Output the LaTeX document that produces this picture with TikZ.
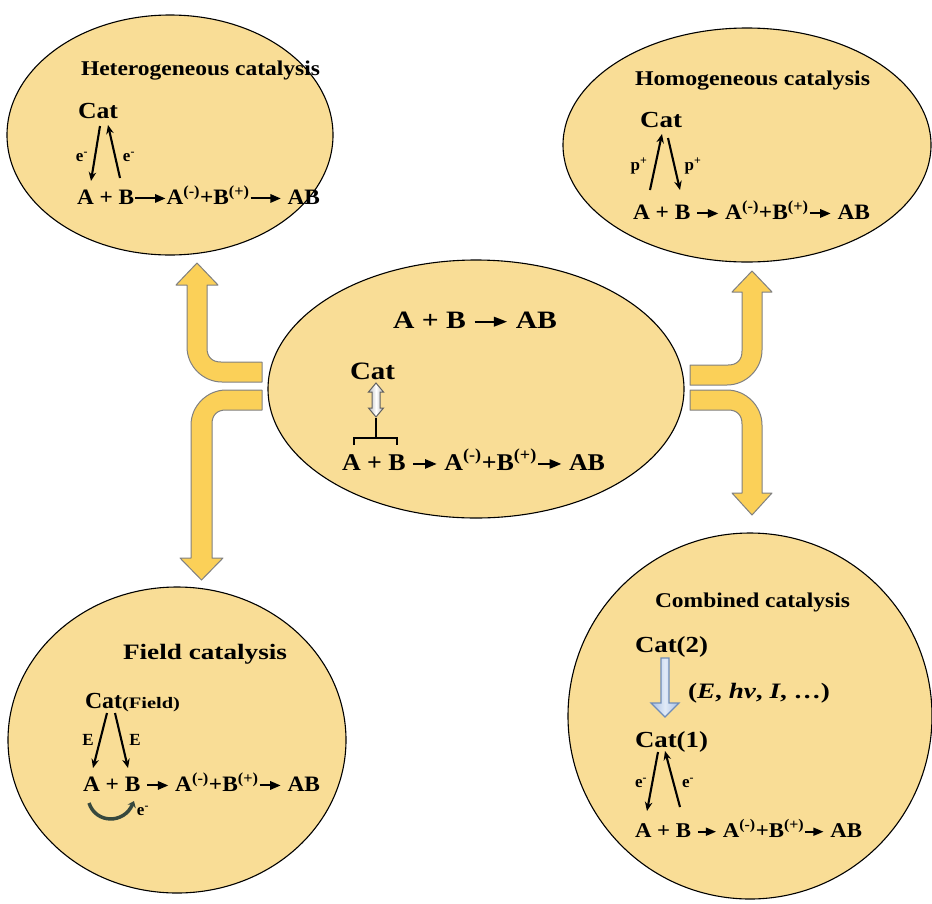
\documentclass[tikz,border=0pt]{standalone}
\usepackage{fontspec}
\setmainfont{Liberation Serif}
\usepackage{graphicx}
\usetikzlibrary{arrows.meta,shapes.geometric}
\definecolor{ellfill}{RGB}{249,221,150}
\definecolor{arrfill}{RGB}{251,208,88}
\definecolor{arrdraw}{RGB}{128,128,128}
\definecolor{curv}{RGB}{55,72,62}
\definecolor{hblue}{RGB}{165,190,228}
\definecolor{hbluelight}{RGB}{225,234,247}
\definecolor{hbluedraw}{RGB}{110,140,185}
\newcommand\fitw[2]{\resizebox{#1pt}{\height}{#2}}
\newcommand\rar[1]{\tikz[baseline=-0.55ex]\draw[line width=0.09em,-{Triangle[length=0.45em,width=0.38em]}](0pt,0pt)--(#1,0pt);}
\newcommand\Ftitle{\fontsize{21}{24}\selectfont\bfseries}
\newcommand\Fcat{\fontsize{23}{26}\selectfont\bfseries}
\newcommand\Fline{\fontsize{22}{25}\selectfont\bfseries}
\newcommand\Fsmall{\fontsize{17}{19}\selectfont\bfseries}
\tikzset{
  ell/.style={ellipse, draw=black, line width=1.1pt, fill=ellfill, inner sep=0pt},
  bigarrow/.style={fill=arrfill, draw=arrdraw, line width=1pt, line join=round},
  txt/.style={anchor=base west, inner sep=0pt, outer sep=0pt, text=black},
  lbl/.style={inner sep=0pt, text=black},
  cata/.style={line width=2.1pt, -{Stealth[length=9pt,width=7.5pt]}},
}
\begin{document}
\begin{tikzpicture}[x=1pt,y=-1pt]
\useasboundingbox (0,0) rectangle (932,903);
% ellipses
\node[ell, minimum width=326pt, minimum height=240pt] (het) at (170,135) {};
\node[ell, minimum width=368pt, minimum height=234pt] (hom) at (747,145) {};
\node[ell, minimum width=416pt, minimum height=258pt] (cen) at (476,389) {};
\node[ell, minimum width=338pt, minimum height=306pt] (fld) at (177,740) {};
\node[ell, minimum width=364pt, minimum height=366pt] (cmb) at (750,716) {};
% big yellow arrows
\path[bigarrow] (197,263) -- (218,285) -- (207,285) -- (207,348)
  .. controls (207,357) and (212,362) .. (221,362) -- (262,362) -- (262,382) -- (222,382)
  .. controls (203,382) and (187,366) .. (187,347) -- (187,285) -- (176,285) -- cycle;
\path[bigarrow] (262,390) -- (226,390) .. controls (207,390) and (191,406) .. (191,425)
  -- (191,558) -- (180,558) -- (201.5,580) -- (223,558) -- (212,558) -- (212,424)
  .. controls (212,415) and (217,410) .. (226,410) -- (262,410) -- cycle;
\path[bigarrow] (690,365) -- (728,365) .. controls (737,365) and (742,360) .. (742,351)
  -- (742,292) -- (732,292) -- (752,271) -- (772,292) -- (762,292) -- (762,350)
  .. controls (762,369) and (746,385) .. (727,385) -- (690,385) -- cycle;
\path[bigarrow] (690,390) -- (727,390) .. controls (746,390) and (762,406) .. (762,425)
  -- (762,493) -- (772,493) -- (752,515) -- (732,493) -- (742,493) -- (742,424)
  .. controls (742,415) and (737,410) .. (728,410) -- (690,410) -- cycle;
% ---------- Heterogeneous
\node[txt] (hetT) at (81,75) {\Ftitle\fitw{239}{Heterogeneous catalysis}};
\node[txt] (hetC) at (78,118) {\Fcat\fitw{40}{Cat}};
\node[txt] (hetL) at (77,204) {\Fline\fitw{243}{A + B\rar{1.3em}A\textsuperscript{(-)}+B\textsuperscript{(+)}\rar{1.3em} AB}};
\node[lbl] (hetE1) at (82,157) {\Fsmall e\textsuperscript{-}};
\node[lbl] (hetE2) at (129,157) {\Fsmall e\textsuperscript{-}};
\coordinate (h1a) at (100,126); \coordinate (h1b) at (91,181);
\coordinate (h2a) at (120,178); \coordinate (h2b) at (108,125);
\draw[cata] (h1a) -- (h1b);
\draw[cata] (h2a) -- (h2b);
% ---------- Homogeneous
\node[txt] (homT) at (635,85) {\Ftitle\fitw{235}{Homogeneous catalysis}};
\node[txt] (homC) at (640,127) {\Fcat\fitw{42}{Cat}};
\node[txt] (homL) at (633,219) {\Fline\fitw{237}{A + B \rar{0.9em} A\textsuperscript{(-)}+B\textsuperscript{(+)}\rar{0.9em} AB}};
\node[lbl] (homP1) at (639,166) {\Fsmall p\textsuperscript{+}};
\node[lbl] (homP2) at (693,166) {\Fsmall p\textsuperscript{+}};
\coordinate (m1a) at (650,190); \coordinate (m1b) at (662,134);
\coordinate (m2a) at (668,138); \coordinate (m2b) at (680,190);
\draw[cata] (m1a) -- (m1b);
\draw[cata] (m2a) -- (m2b);
% ---------- Center
\node[txt] (cenR) at (393,328) {\fontsize{25}{28}\selectfont\bfseries\fitw{164}{A + B \rar{1.1em} AB}};
\node[txt] (cenC) at (350,379) {\fontsize{25}{28}\selectfont\bfseries\fitw{45}{Cat}};
\node[txt] (cenL) at (342,470) {\fontsize{24}{27}\selectfont\bfseries\fitw{263}{A + B \rar{0.9em} A\textsuperscript{(-)}+B\textsuperscript{(+)}\rar{0.9em} AB}};
\path[left color=gray!55, right color=gray!55, middle color=white, draw=gray!75!black, line width=1pt]
  (376,383) -- (383.5,392) -- (380,392) -- (380,408) -- (383.5,408) -- (376,417)
  -- (368.5,408) -- (372,408) -- (372,392) -- (368.5,392) -- cycle;
\coordinate (brT) at (375.5,418); \coordinate (brM) at (375.5,438);
\draw[line width=2pt] (brT) -- (brM);
\draw[line width=2pt] (354,445) -- (354,438) -- (397,438) -- (397,445);
% ---------- Field
\node[txt] (fldT) at (123,659) {\fontsize{22}{25}\selectfont\bfseries\fitw{164}{Field catalysis}};
\node[txt] (fldC) at (85,708) {\Fcat\fitw{37}{Cat}\fontsize{16}{18}\selectfont\bfseries\fitw{58}{(Field)}};
\node[txt] (fldL) at (83,791) {\Fline\fitw{237}{A + B \rar{0.9em} A\textsuperscript{(-)}+B\textsuperscript{(+)}\rar{0.9em} AB}};
\node[lbl] (fldE1) at (88,740) {\fontsize{17}{19}\selectfont\bfseries E};
\node[lbl] (fldE2) at (135,740) {\fontsize{17}{19}\selectfont\bfseries E};
\node[lbl] (fldE3) at (143,811) {\Fsmall e\textsuperscript{-}};
\coordinate (f1a) at (107,713); \coordinate (f1b) at (93,768);
\coordinate (f2a) at (115,713); \coordinate (f2b) at (128,768);
\draw[cata] (f1a) -- (f1b);
\draw[cata] (f2a) -- (f2b);
\coordinate (fA) at (89,803); \coordinate (fB) at (134,801);
\draw[curv, line width=3.5pt, -{Stealth[length=6pt,width=9pt]}] (fA) .. controls (96,824) and (124,824) .. (fB);
% ---------- Combined
\node[txt] (cmbT) at (655,607) {\Ftitle\fitw{195}{Combined catalysis}};
\node[txt] (cmbC2) at (635,652) {\Fcat\fitw{73}{Cat(2)}};
\node[txt] (cmbX) at (688,698) {\Fline\fitw{142}{(\textit{E}, \textit{hv}, \textit{I}, …)}};
\node[txt] (cmbC1) at (635,747) {\Fcat\fitw{73}{Cat(1)}};
\node[txt] (cmbL) at (635,837) {\fontsize{21}{24}\selectfont\bfseries\fitw{227}{A + B \rar{0.8em} A\textsuperscript{(-)}+B\textsuperscript{(+)}\rar{0.8em} AB}};
\path[left color=hblue, right color=hblue, middle color=hbluelight, draw=hbluedraw, line width=1.2pt]
  (661,658) -- (669,658) -- (669,703) -- (679,703) -- (665,717) -- (651,703) -- (661,703) -- cycle;
\node[lbl] (cmbE1) at (641,783) {\Fsmall e\textsuperscript{-}};
\node[lbl] (cmbE2) at (688,783) {\Fsmall e\textsuperscript{-}};
\coordinate (c1a) at (658,752); \coordinate (c1b) at (647,811);
\coordinate (c2a) at (680,807); \coordinate (c2b) at (665,751);
\draw[cata] (c1a) -- (c1b);
\draw[cata] (c2a) -- (c2b);
\end{tikzpicture}
\end{document}
